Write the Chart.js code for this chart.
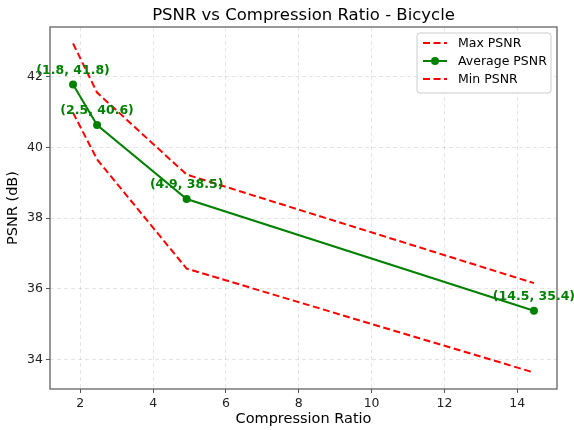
<!DOCTYPE html>
<html>
<head>
<meta charset="utf-8">
<script src="https://cdn.jsdelivr.net/npm/chart.js@4.4.0/dist/chart.umd.min.js"></script>
<style>
  html, body { margin: 0; padding: 0; background: #fff; }
  #wrap { width: 574px; height: 430px; }
</style>
</head>
<body>
<div id="wrap"><canvas id="mycanvas" width="574" height="430"></canvas></div>
<script>
// compression ratio per setting
var ratio = [1.8, 2.46, 4.92, 14.46];
var maxPsnr = [42.94, 41.55, 39.23, 36.16];
var avgPsnr = [41.78, 40.63, 38.54, 35.38];
var minPsnr = [40.98, 39.66, 36.57, 33.63];
var xTicks = [2, 4, 6, 8, 10, 12, 14];
var yTicks = [34, 36, 38, 40, 42];

var FONT = "'DejaVu Sans', sans-serif";

function pts(ys) {
	var out = [];
	for (var i in ratio) {
		out.push({x: ratio[i], y: ys[i]});
	}
	return out;
}

// matplotlib style 5% margins
var allY = maxPsnr.concat(avgPsnr, minPsnr);
var xLo = Math.min.apply(null, ratio), xHi = Math.max.apply(null, ratio);
var yLo = Math.min.apply(null, allY), yHi = Math.max.apply(null, allY);
var xPad = (xHi - xLo) * 0.05, yPad = (yHi - yLo) * 0.05;

var extras = {
	id: 'extras',
	beforeDatasetsDraw: function(chart) {
		var c = chart.ctx, a = chart.chartArea;
		c.save();
		c.strokeStyle = '#555';
		c.lineWidth = 1.2;
		c.strokeRect(a.left, a.top, a.right - a.left, a.bottom - a.top);
		c.restore();
	},
	afterDraw: function(chart) {
		var c = chart.ctx, a = chart.chartArea;
		c.save();
		// title
		c.fillStyle = '#000';
		c.font = '16.5px ' + FONT;
		c.textAlign = 'center';
		c.textBaseline = 'middle';
		c.fillText('PSNR vs Compression Ratio - Bicycle', (a.left + a.right) / 2, 16);

		// point labels for the average series
		var meta = chart.getDatasetMeta(1);
		c.font = 'bold 12.5px ' + FONT;
		c.fillStyle = 'green';
		c.textBaseline = 'middle';
		meta.data.forEach(function(p, i) {
			var txt = '(' + ratio[i].toFixed(1) + ', ' + avgPsnr[i].toFixed(1) + ')';
			c.fillText(txt, p.x, p.y - 14);
		});

		// legend box
		var bw = 134, bh = 60;
		var bx = a.right - 6 - bw, by = a.top + 6;
		c.fillStyle = 'rgba(255,255,255,0.85)';
		c.strokeStyle = '#cccccc';
		c.lineWidth = 1;
		c.beginPath();
		c.roundRect(bx, by, bw, bh, 3);
		c.fill();
		c.stroke();
		var items = chart.data.datasets;
		c.font = '12.5px ' + FONT;
		c.textAlign = 'left';
		items.forEach(function(ds, i) {
			var ry = by + 10 + i * 18;
			c.strokeStyle = ds.borderColor;
			c.lineWidth = ds.borderWidth;
			c.setLineDash(ds.borderDash || []);
			c.beginPath();
			c.moveTo(bx + 6, ry);
			c.lineTo(bx + 30, ry);
			c.stroke();
			c.setLineDash([]);
			if (ds.pointRadius > 0) {
				c.fillStyle = ds.borderColor;
				c.beginPath();
				c.arc(bx + 18, ry, ds.pointRadius, 0, Math.PI * 2);
				c.fill();
			}
			c.fillStyle = '#000';
			c.fillText(ds.label, bx + 41, ry + 1);
		});
		c.restore();
	}
};

var chartdata = {
	datasets: [
		{
			label: 'Max PSNR',
			data: pts(maxPsnr),
			borderColor: 'red',
			borderWidth: 2,
			borderDash: [7, 3.5],
			pointRadius: 0,
			order: 2
		},
		{
			label: 'Average PSNR',
			data: pts(avgPsnr),
			borderColor: 'green',
			backgroundColor: 'green',
			borderWidth: 2,
			pointRadius: 4,
			pointBackgroundColor: 'green',
			pointBorderWidth: 0,
			order: 1
		},
		{
			label: 'Min PSNR',
			data: pts(minPsnr),
			borderColor: 'red',
			borderWidth: 2,
			borderDash: [7, 3.5],
			pointRadius: 0,
			order: 3
		}
	]
};

Chart.defaults.font.family = FONT;
Chart.defaults.color = '#222';

var cxt = document.getElementById('mycanvas');
var lineGraph = new Chart(cxt, {
	type: 'line',
	data: chartdata,
	plugins: [extras],
	options: {
		responsive: false,
		animation: false,
		layout: { padding: { top: 27, right: 17, left: 0, bottom: 0 } },
		plugins: {
			legend: { display: false },
			title: { display: false },
			tooltip: { enabled: false }
		},
		scales: {
			x: {
				type: 'linear',
				min: xLo - xPad,
				max: xHi + xPad,
				afterBuildTicks: function(axis) {
					axis.ticks = xTicks.map(function(v) { return {value: v}; });
				},
				afterFit: function(scale) { scale.height = 41; },
				ticks: { font: { size: 12.5 }, color: '#222', maxRotation: 0, padding: 3 },
				grid: { color: 'rgba(0,0,0,0.1)', tickColor: '#555', tickLength: 4 },
				border: { display: false, dash: [4, 3] },
				title: { display: true, text: 'Compression Ratio', font: { size: 14.5 }, color: '#000', padding: { top: 0, bottom: 2 } }
			},
			y: {
				type: 'linear',
				min: yLo - yPad,
				max: yHi + yPad,
				afterBuildTicks: function(axis) {
					axis.ticks = yTicks.map(function(v) { return {value: v}; });
				},
				afterFit: function(scale) { scale.width = 50; },
				ticks: { font: { size: 12.5 }, color: '#222', padding: 3 },
				grid: { color: 'rgba(0,0,0,0.1)', tickColor: '#555', tickLength: 4 },
				border: { display: false, dash: [4, 3] },
				title: { display: true, text: 'PSNR (dB)', font: { size: 14.5 }, color: '#000', padding: { top: 5, bottom: 5 } }
			}
		}
	}
});
</script>
</body>
</html>
